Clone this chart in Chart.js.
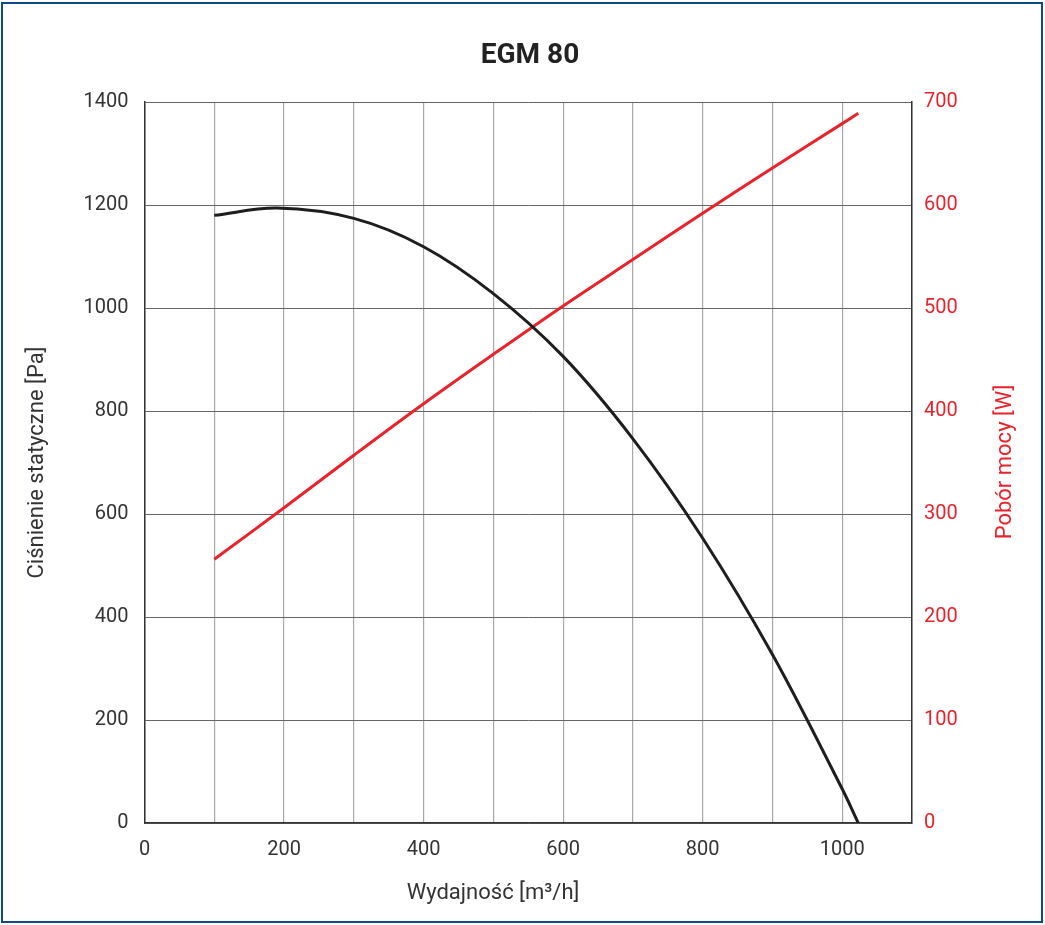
<!DOCTYPE html>
<html>
<head>
<meta charset="utf-8">
<script src="https://cdn.jsdelivr.net/npm/chart.js@4"></script>
<style>
  html, body { margin: 0; padding: 0; background: #fff; }
  #wrap { position: relative; width: 1045px; height: 925px; }
  #frame {
    position: absolute; left: 1px; top: 2px; width: 1038px; height: 917px;
    border: 2.5px solid #0d4a87; pointer-events: none;
  }
  canvas { position: absolute; left: 0; top: 0; }
</style>
</head>
<body>
<div id="wrap">
  <canvas id="myChart" width="1045" height="925"></canvas>
  <div id="frame"></div>
</div>
<script>
// airflow [m3/h] for both curves
const flowPressure = [100, 190, 300, 400, 500, 600, 700, 800, 900, 1000, 1023];
const staticPressure = [1180, 1194, 1174, 1119, 1028, 906, 746, 553, 327, 66, 0];

const flowPower = [100, 200, 300, 400, 500, 600, 700, 800, 900, 1000, 1023];
const powerDraw = [256, 306, 357, 407, 455, 502, 547, 592, 636, 679, 689];

const pressureTicks = [0, 200, 400, 600, 800, 1000, 1200, 1400];
const powerTicks = [0, 100, 200, 300, 400, 500, 600, 700];
const flowLabels = [0, 200, 400, 600, 800, 1000];

const RED = '#e8232b';
const FONT = 'Roboto, "Open Sans", sans-serif';

function toPoints(xs, ys) {
  return xs.map((x, i) => ({ x: x, y: ys[i] }));
}

// titles drawn by hand: chart title, x title (off-centre) and right title (bottom-to-top)
const extraText = {
  id: 'extraText',
  afterDraw(chart) {
    const ctx = chart.ctx;
    ctx.save();
    ctx.textAlign = 'center';
    ctx.textBaseline = 'middle';
    ctx.fillStyle = '#222';
    ctx.font = 'bold 28px ' + FONT;
    ctx.fillText('EGM 80', 530, 56);

    ctx.fillStyle = '#333';
    ctx.font = '22px ' + FONT;
    ctx.fillText('Wydajność [m³/h]', 493, 893);

    ctx.translate(1005, 462);
    ctx.rotate(-Math.PI / 2);
    ctx.fillStyle = RED;
    ctx.fillText('Pobór mocy [W]', 0, 0);
    ctx.restore();
  }
};

const myChart = new Chart(document.getElementById('myChart'), {
  type: 'scatter',
  data: {
    datasets: [
      {
        label: 'Ciśnienie statyczne',
        data: toPoints(flowPressure, staticPressure),
        showLine: true,
        borderColor: '#1e1e1e',
        borderWidth: 3,
        pointRadius: 0,
        tension: 0.35,
        yAxisID: 'y'
      },
      {
        label: 'Pobór mocy',
        data: toPoints(flowPower, powerDraw),
        showLine: true,
        borderColor: RED,
        borderWidth: 3,
        pointRadius: 0,
        tension: 0.35,
        yAxisID: 'y1'
      }
    ]
  },
  options: {
    responsive: false,
    animation: false,
    layout: { padding: { top: 102, left: 0, right: 0, bottom: 0 } },
    plugins: {
      legend: { display: false },
      tooltip: { enabled: false }
    },
    scales: {
      x: {
        type: 'linear',
        min: 0,
        max: 1100,
        afterFit(scale) { scale.height = 102; },
        border: { color: '#333', width: 1.5 },
        grid: { color: '#a8a8a8', lineWidth: 1.2, drawTicks: false },
        ticks: {
          stepSize: 100,
          autoSkip: false,
          maxRotation: 0,
          padding: 15,
          color: '#333',
          font: { family: FONT, size: 20 },
          callback: v => flowLabels.includes(v) ? String(v) : ''
        }
      },
      y: {
        position: 'left',
        min: 0,
        max: 1400,
        afterFit(scale) { scale.width = 144.5; },
        afterBuildTicks(scale) { scale.ticks = pressureTicks.map(v => ({ value: v })); },
        border: { color: '#333', width: 1.5 },
        grid: { color: '#666', lineWidth: 1, drawTicks: false },
        ticks: {
          padding: 16,
          color: '#333',
          font: { family: FONT, size: 20 },
          callback: v => String(v)
        },
        title: {
          display: true,
          text: 'Ciśnienie statyczne [Pa]',
          color: '#333',
          font: { family: FONT, size: 22 },
          padding: { top: 24, bottom: 0 }
        }
      },
      y1: {
        position: 'right',
        min: 0,
        max: 700,
        afterFit(scale) { scale.width = 133; },
        afterBuildTicks(scale) { scale.ticks = powerTicks.map(v => ({ value: v })); },
        border: { color: '#333', width: 1.5 },
        grid: { drawOnChartArea: false, drawTicks: false },
        ticks: {
          padding: 12,
          color: RED,
          font: { family: FONT, size: 20 },
          callback: v => String(v)
        }
      }
    }
  },
  plugins: [extraText]
});
</script>
</body>
</html>
